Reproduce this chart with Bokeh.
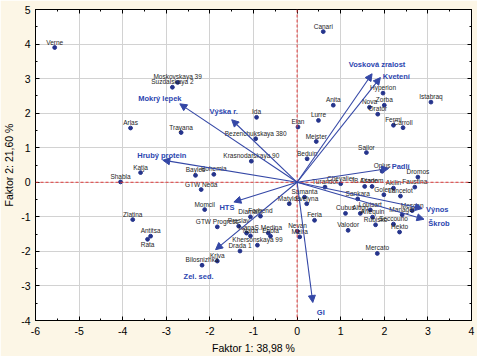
from bokeh.plotting import figure
from bokeh.models import (Arrow, NormalHead, Span, LinearAxis, ColumnDataSource,
                          SingleIntervalTicker, PrintfTickFormatter, CustomJSTickFormatter)
from bokeh.embed import file_html
from bokeh.resources import INLINE
from bokeh.core.properties import value

# ---------------- data ----------------
cultivars = ["Verne", "Moskovskaya 39", "Suzdalskaya 2", "Ida", "Canari", "Anita",
             "Hyperion", "Nova", "Zorba", "Oratór", "Istabraq", "Fermi", "Carroll",
             "Lurre", "Elan", "Meister", "Beduin", "Sailor", "Oplus", "Dromos",
             "Faustina", "Diadem", "JB Asano", "Akilin", "Chevalier", "Turandot",
             "Samanta", "Matylda", "Evelyna", "Feria", "Nevan", "Meira", "Cubus",
             "Altigo", "Arlequin", "Louisart", "Sankara", "Golem", "Lancelot",
             "Mescan", "Manager", "Rubisko", "Seccouno", "Hekto", "Valodor", "Mercato",
             "Arlas", "Katja", "Shabla", "Zlatina", "Antitsa", "Rata", "Trayana",
             "Bezenchukskaya 380", "Krasnodarskaya 90", "Bohemia", "Bayles",
             "GTW Neda", "Momcil", "GTW Progress", "Preslav", "Diamant", "Farbend",
             "Ivana", "Nada", "S.Medina", "Enola", "Khersonskaya 99", "Drada 1",
             "Kriva", "Bilosnizhka"]
factor1 = [-5.56, -2.74, -2.86, -0.93, 0.60, 0.83,
           1.97, 1.66, 2.00, 1.85, 3.07, 2.21, 2.43,
           0.49, 0.02, 0.44, 0.23, 1.59, 1.95, 2.77,
           2.70, 1.72, 1.55, 2.21, 1.00, 0.64,
           0.17, -0.18, 0.22, 0.40, 0.01, 0.06, 1.11,
           1.45, 1.73, 1.68, 1.39, 1.99, 2.37,
           2.64, 2.41, 1.80, 2.21, 2.35, 1.17, 1.84,
           -3.82, -3.59, -4.05, -3.77, -3.36, -3.43, -2.66,
           -0.95, -1.05, -1.91, -2.33,
           -2.20, -2.12, -1.83, -1.34, -1.07, -0.84,
           -1.16, -1.07, -0.66, -0.61, -0.91, -1.31,
           -1.83, -2.18]
factor2 = [3.90, 2.89, 2.75, 1.88, 4.36, 2.23,
           2.58, 2.17, 2.23, 1.97, 2.32, 1.65, 1.58,
           1.79, 1.60, 1.18, 0.68, 0.86, 0.32, 0.15,
           -0.14, -0.12, -0.12, -0.17, -0.04, -0.14,
           -0.43, -0.62, -0.62, -1.10, -1.42, -1.58, -0.90,
           -0.90, -1.01, -0.80, -0.48, -0.36, -0.40,
           -0.82, -0.94, -1.23, -1.21, -1.44, -1.39, -2.06,
           1.57, 0.28, 0.01, -1.08, -1.56, -1.65, 1.44,
           1.26, 0.61, 0.23, 0.20,
           -0.21, -0.79, -1.29, -1.27, -1.00, -0.98,
           -1.47, -1.55, -1.47, -1.56, -1.82, -1.99,
           -2.28, -2.40]

variables = ["Vosková zralost", "Kvetení", "Mokrý lepek", "Výška r.", "Hrubý protein",
             "HTS", "Zel. sed.", "GI", "Padlí", "Výnos", "Škrob"]
load1 = [1.72, 1.91, -2.69, -1.50, -3.08, -1.45, -1.87, 0.36, 2.10, 2.87, 2.91]
load2 = [3.14, 3.03, 2.27, 1.81, 0.64, -0.57, -1.95, -3.48, 0.40, -0.76, -1.07]

x_label = "Faktor 1: 38,98 %"
y_label = "Faktor 2: 21,60 %"

# ---------------- styling / layout ----------------
CREAM = "#fcf6e6"
DOT = "#25348c"
ARROW = "#3447a6"
VARTXT = "#2b46b0"
FONT = "Liberation Sans"

# label placement nudges (pixels) for the variable names
var_nudge = {"Vosková zralost": (5, -9), "Kvetení": (16, -1), "Mokrý lepek": (-20, -5),
             "Výška r.": (-8, -8), "Hrubý protein": (-1, -5), "HTS": (-7, 6),
             "Zel. sed.": (-17, 27), "GI": (8, 10), "Padlí": (12, -2),
             "Výnos": (15, 1), "Škrob": (15, 4)}
labels_below = {"Rata"}

p = figure(width=477, height=356, x_range=(-6, 4), y_range=(-4, 5),
           output_backend="svg", toolbar_location=None,
           min_border_left=35, min_border_right=6, min_border_top=9, min_border_bottom=36,
           background_fill_color="white", border_fill_color=CREAM)
p.outline_line_color = "black"
p.outline_line_width = 1

for ax, lab in ((p.xaxis[0], x_label), (p.yaxis[0], y_label)):
    ax.ticker = SingleIntervalTicker(interval=1, num_minor_ticks=2)
    ax.formatter = PrintfTickFormatter(format="%d")
    ax.axis_label = lab
    ax.axis_label_text_font = FONT
    ax.axis_label_text_font_size = "10.5px"
    ax.axis_label_text_font_style = "normal"
    ax.axis_label_text_color = "black"
    ax.major_label_text_font = FONT
    ax.major_label_text_font_size = "10.5px"
    ax.major_label_text_color = "black"
    ax.major_tick_in = 4
    ax.major_tick_out = 0
    ax.minor_tick_in = 2
    ax.minor_tick_out = 0
    ax.axis_line_color = "black"
    ax.major_tick_line_color = "black"
    ax.minor_tick_line_color = "black"
p.xaxis.major_label_standoff = 6
p.xaxis.axis_label_standoff = 4
p.yaxis.major_label_standoff = 5
p.yaxis.axis_label_standoff = 3

for loc in ("above", "right"):
    ax = LinearAxis(ticker=SingleIntervalTicker(interval=1, num_minor_ticks=2),
                    formatter=CustomJSTickFormatter(code="return ''"),
                    major_label_standoff=0,
                    major_tick_in=4, major_tick_out=0, minor_tick_in=2, minor_tick_out=0,
                    axis_line_color="black")
    p.add_layout(ax, loc)

p.grid.grid_line_color = "#d2d2d2"
p.grid.grid_line_width = 1

p.add_layout(Span(location=0, dimension="height", line_color="#e23a3a",
                  line_dash="3 2", line_width=1))
p.add_layout(Span(location=0, dimension="width", line_color="#e23a3a",
                  line_dash="3 2", line_width=1))

# variable vectors
for name, a, b in zip(variables, load1, load2):
    p.add_layout(Arrow(end=NormalHead(size=7, fill_color=ARROW, line_color=ARROW),
                       x_start=0, y_start=0, x_end=a, y_end=b,
                       line_color=ARROW, line_width=1.1))
vsrc = ColumnDataSource(dict(x=load1, y=load2, t=variables,
                             dx=[var_nudge[v][0] for v in variables],
                             dy=[var_nudge[v][1] for v in variables]))
p.text("x", "y", text="t", source=vsrc, x_offset="dx", y_offset="dy",
       text_font=value(FONT), text_font_size="7.5px", text_font_style="bold",
       text_color=VARTXT, text_align="center", text_baseline="middle")

# cultivar scores
p.scatter(factor1, factor2, size=3.8, color=DOT)
up = [i for i, c in enumerate(cultivars) if c not in labels_below]
dn = [i for i, c in enumerate(cultivars) if c in labels_below]
p.text([factor1[i] for i in up], [factor2[i] for i in up], text=[cultivars[i] for i in up],
       text_font=value(FONT), text_font_size="6.5px", text_color="#1e1e1e",
       text_align="center", text_baseline="bottom", y_offset=-2)
p.text([factor1[i] for i in dn], [factor2[i] for i in dn], text=[cultivars[i] for i in dn],
       text_font=value(FONT), text_font_size="6.5px", text_color="#1e1e1e",
       text_align="center", text_baseline="top", y_offset=2)

open("out.html", "w").write(file_html(p, INLINE))
